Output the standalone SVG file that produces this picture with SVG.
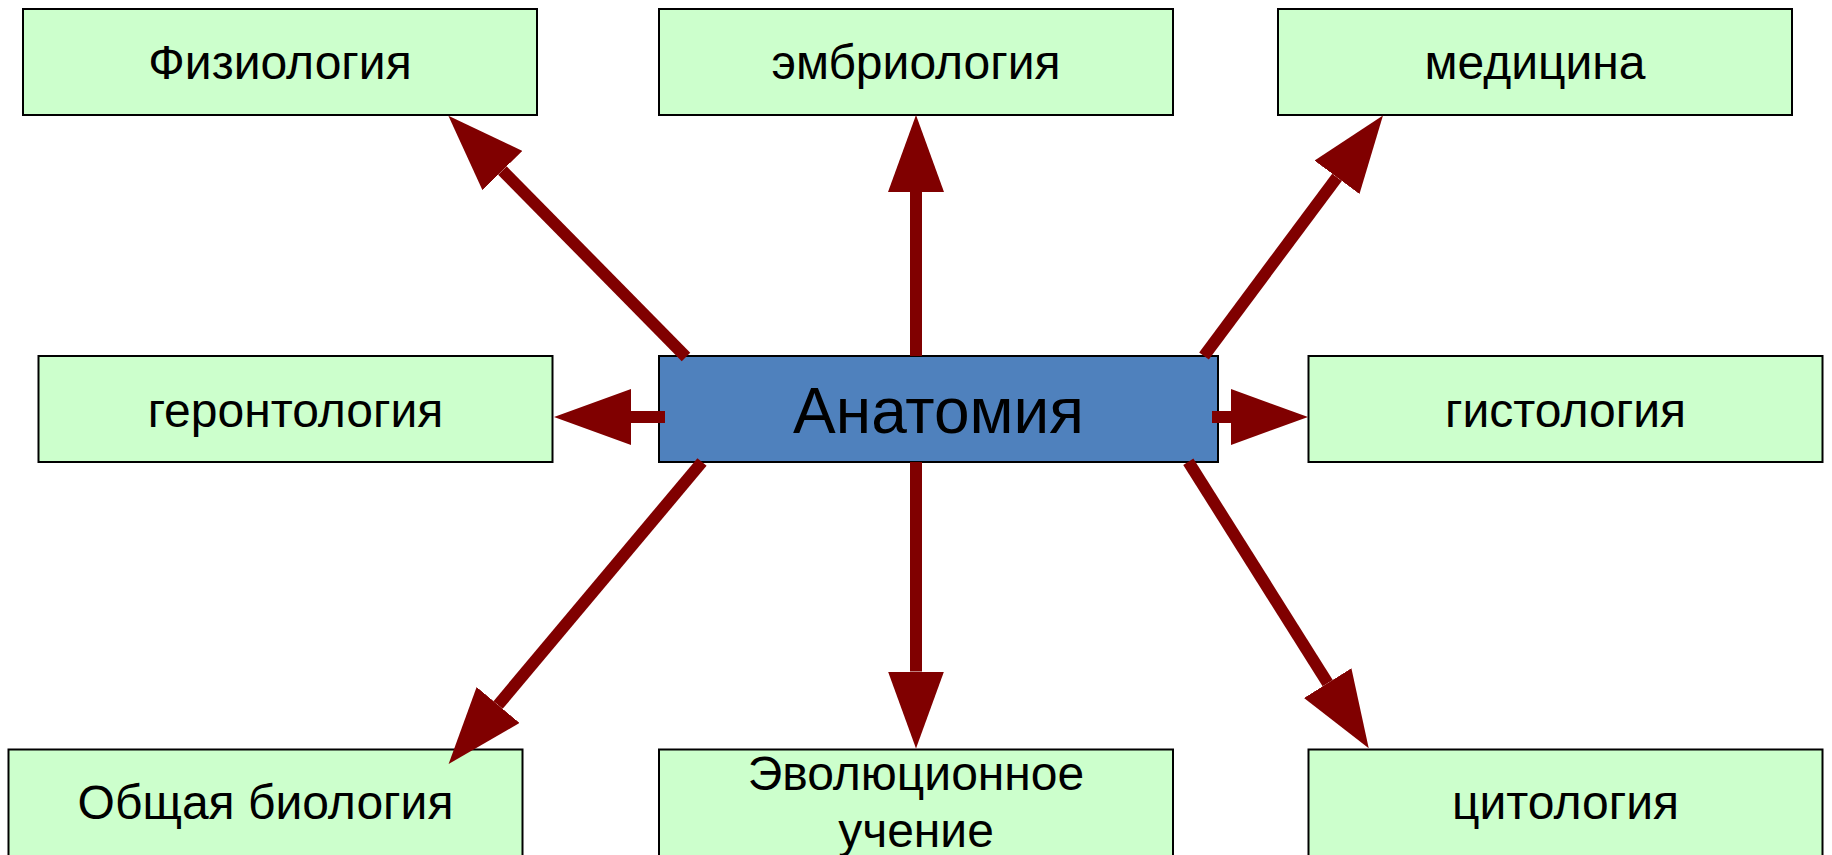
<svg xmlns="http://www.w3.org/2000/svg" width="1832" height="855" viewBox="0 0 1832 855">
<defs>
<style>
.box{fill:#CCFFCC;stroke:#000;stroke-width:2}
.center{fill:#4F81BD;stroke:#000;stroke-width:2}
.lbl{font-family:"Liberation Sans",Arial,sans-serif;font-size:48px;fill:#000;text-anchor:middle}
.big{font-family:"Liberation Sans",Arial,sans-serif;font-size:64px;fill:#000;text-anchor:middle}
.con{stroke:#800000;stroke-width:12;fill:none;marker-end:url(#ah)}
</style>
<marker id="ah" markerUnits="userSpaceOnUse" viewBox="0 0 77 56" refX="0" refY="28" markerWidth="77" markerHeight="56" orient="auto">
<path d="M0,0 L77,28 L0,56 Z" fill="#800000"/>
</marker>
</defs>
<rect width="1832" height="855" fill="#fff"/>
<g id="n-fiziologiya">
<rect class="box" x="23" y="9" width="514" height="106"/>
<text class="lbl" x="280" y="79">Физиология</text>
</g>
<g id="n-embriologiya">
<rect class="box" x="659" y="9" width="514" height="106"/>
<text class="lbl" x="916" y="79">эмбриология</text>
</g>
<g id="n-meditsina">
<rect class="box" x="1278" y="9" width="514" height="106"/>
<text class="lbl" x="1535" y="79">медицина</text>
</g>
<g id="n-gerontologiya">
<rect class="box" x="38.5" y="356" width="514" height="106"/>
<text class="lbl" x="295.5" y="427">геронтология</text>
</g>
<g id="n-anatomiya">
<rect class="center" x="659" y="356" width="559" height="106"/>
<text class="big" x="938.5" y="433">Анатомия</text>
</g>
<g id="n-gistologiya">
<rect class="box" x="1308.5" y="356" width="514" height="106"/>
<text class="lbl" x="1565.5" y="427">гистология</text>
</g>
<g id="n-obshchaya">
<rect class="box" x="8.5" y="749.5" width="514" height="108"/>
<text class="lbl" x="265.5" y="819">Общая биология</text>
</g>
<g id="n-evolyutsionnoe">
<rect class="box" x="659" y="749.5" width="514" height="108"/>
<text class="lbl" x="916" y="790">Эволюционное</text>
<text class="lbl" x="916" y="847">учение</text>
</g>
<g id="n-tsitologiya">
<rect class="box" x="1308.5" y="749.5" width="514" height="108"/>
<text class="lbl" x="1565.5" y="819">цитология</text>
</g>
<g id="connectors">
<line class="con" x1="686" y1="357" x2="502.4" y2="170.5"/>
<line class="con" x1="916" y1="356" x2="916" y2="192"/>
<line class="con" x1="1204" y1="356" x2="1337" y2="177.3"/>
<line class="con" x1="1212" y1="417" x2="1231" y2="417"/>
<line class="con" x1="665" y1="417" x2="631" y2="417"/>
<line class="con" x1="702" y1="462" x2="498.1" y2="705"/>
<line class="con" x1="916" y1="462" x2="916" y2="671.5"/>
<line class="con" x1="1188.3" y1="461.7" x2="1327.7" y2="683.1"/>
</g>
</svg>
